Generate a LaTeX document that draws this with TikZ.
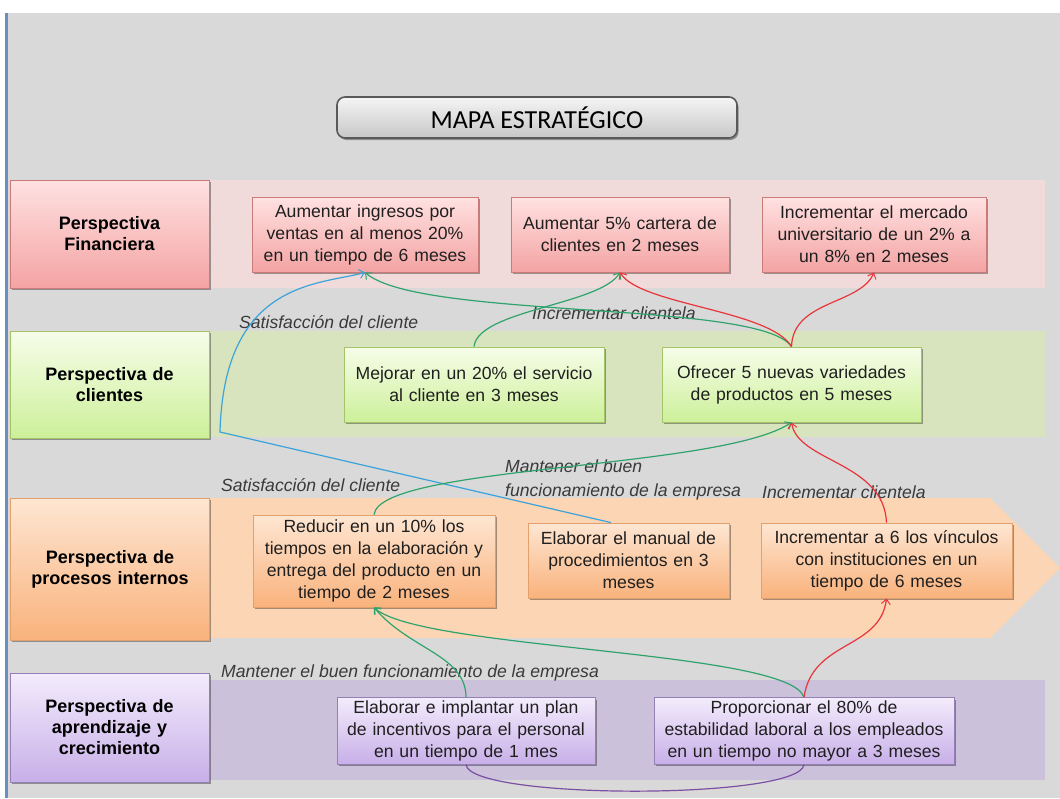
\documentclass[tikz,border=0pt]{standalone}
\usepackage{fontspec}
\setmainfont{Liberation Sans}
\newfontfamily\titlefont{Carlito}
\usetikzlibrary{arrows.meta,shadows}
\definecolor{bg}{HTML}{D9D9D9}
\definecolor{bandR}{HTML}{F0DBDA}
\definecolor{bandG}{HTML}{D8E4BE}
\definecolor{bandO}{HTML}{FCD5B5}
\definecolor{bandP}{HTML}{CCC1DA}
\definecolor{rT}{HTML}{FFE1E1}\definecolor{rB}{HTML}{F4A3A3}\definecolor{rD}{HTML}{C97B79}
\definecolor{gT}{HTML}{F6FDE9}\definecolor{gB}{HTML}{CDF09A}\definecolor{gD}{HTML}{A5C46A}
\definecolor{oT}{HTML}{FEE6D2}\definecolor{oB}{HTML}{F9B27C}\definecolor{oD}{HTML}{E2A06C}
\definecolor{pT}{HTML}{F3ECFC}\definecolor{pB}{HTML}{C8AFE8}\definecolor{pD}{HTML}{9580B5}
\definecolor{lnB}{HTML}{3BA3D9}\definecolor{lnG}{HTML}{2FA36C}\definecolor{lnR}{HTML}{E8353A}\definecolor{lnP}{HTML}{7B4FA3}
\definecolor{edgeblue}{HTML}{6C8EBF}
\definecolor{txt}{HTML}{1F1F1F}
\definecolor{itxt}{HTML}{3A3A3A}
\tikzset{
  shad/.style={drop shadow={shadow xshift=1.5pt,shadow yshift=-2pt,opacity=0.35,fill=black}},
  goalbox/.style={shad, draw, line width=0.8pt, align=center, inner sep=3pt,
    text=txt, font=\fontsize{17.6}{22}\selectfont},
  labelbox/.style={shad, draw, line width=0.8pt, align=center, inner sep=3pt,
    text=black, font=\fontsize{18}{21}\selectfont\bfseries,
    minimum width=199pt, text width=190pt},
  redgrad/.style={draw=rD, top color=rT, bottom color=rB},
  greengrad/.style={draw=gD, top color=gT, bottom color=gB},
  orangegrad/.style={draw=oD, top color=oT, bottom color=oB},
  purplegrad/.style={draw=pD, top color=pT, bottom color=pB},
  tag/.style={anchor=west, inner sep=0pt, text=itxt, align=left,
    font=\fontsize{17.6}{24}\selectfont\itshape},
  conn/.style={line width=1.2pt, -{Straight Barb[length=5pt,width=9pt,line width=1pt]}},
}
\begin{document}
\begin{tikzpicture}[x=1pt,y=-1pt]
\useasboundingbox (0,0) rectangle (1060,798);
\fill[white] (0,0) rectangle (1060,798);
\fill[bg] (8,13) rectangle (1060,798);
\draw[edgeblue, line width=2.5pt] (6.5,13) -- (6.5,798);
% bands
\fill[bandR] (200,180) rectangle (1045,288);
\fill[bandG] (200,331) rectangle (1045,437);
\fill[bandO] (200,498) -- (990,498) -- (1060,568) -- (990,638) -- (200,638) -- cycle;
\fill[bandP] (200,680) rectangle (1045,780);
% title
\node[shad, draw=black!65, line width=1.6pt, rounded corners=8pt, top color=white!96!black,
  bottom color=black!22, minimum width=400pt, minimum height=41pt,
  font=\titlefont\fontsize{26}{30}\selectfont] (title) at (537,117.5) {MAPA ESTRATÉGICO};
% perspective labels
\node[labelbox, redgrad, minimum height=108pt] (lf) at (109.5,234) {Perspectiva\\Financiera};
\node[labelbox, greengrad, minimum height=107pt] (lc) at (109.5,384.5) {Perspectiva de\\clientes};
\node[labelbox, orangegrad, minimum height=142pt] (lp) at (110,569) {Perspectiva de\\procesos internos};
\node[labelbox, purplegrad, minimum height=109pt] (la) at (109.5,727.5) {Perspectiva de\\aprendizaje y\\crecimiento};
% goals
\node[goalbox, redgrad, minimum width=226pt, text width=218pt, minimum height=75pt] (f1) at (365,234.5)
  {Aumentar ingresos por\\ventas en al menos 20\%\\en un tiempo de 6 meses};
\node[goalbox, redgrad, minimum width=218pt, text width=210pt, minimum height=75pt] (f2) at (620,234.5)
  {Aumentar 5\% cartera de\\clientes en 2 meses};
\node[goalbox, redgrad, minimum width=224pt, text width=216pt, minimum height=75pt] (f3) at (874,234.5)
  {Incrementar el mercado\\universitario de un 2\% a\\un 8\% en 2 meses};
\node[goalbox, greengrad, minimum width=260pt, text width=252pt, minimum height=75pt] (c1) at (474,384.5)
  {Mejorar en un 20\% el servicio\\al cliente en 3 meses};
\node[goalbox, greengrad, minimum width=259pt, text width=251pt, minimum height=75pt] (c2) at (791.5,384.5)
  {Ofrecer 5 nuevas variedades\\de productos en 5 meses};
\node[goalbox, orangegrad, minimum width=242pt, text width=236pt, minimum height=92pt] (p1) at (374,561)
  {Reducir en un 10\% los\\tiempos en la elaboración y\\entrega del producto en un\\tiempo de 2 meses};
\node[goalbox, orangegrad, minimum width=201pt, text width=195pt, minimum height=75pt] (p2) at (628.5,560.5)
  {Elaborar el manual de\\procedimientos en 3\\meses};
\node[goalbox, orangegrad, minimum width=249pt, text width=245pt, minimum height=75pt] (p3) at (886.5,560.5)
  {Incrementar a 6 los vínculos\\con instituciones en un\\tiempo de 6 meses};
\node[goalbox, purplegrad, minimum width=258pt, text width=252pt, minimum height=66pt] (a1) at (466,731)
  {Elaborar e implantar un plan\\de incentivos para el personal\\en un tiempo de 1 mes};
\node[goalbox, purplegrad, minimum width=300pt, text width=294pt, minimum height=66pt] (a2) at (804,731)
  {Proporcionar el 80\% de\\estabilidad laboral a los empleados\\en un tiempo no mayor a 3 meses};
% connector labels
\node[tag] (t1) at (239,322) {Satisfacción del cliente};
\node[tag] (t2) at (532,313) {Incrementar clientela};
\node[tag] (t3) at (221,485) {Satisfacción del cliente};
\node[tag] (t4) at (505,480) {Mantener el buen\\funcionamiento de la empresa};
\node[tag] (t5) at (762,492) {Incrementar clientela};
\node[tag] (t6) at (221,673) {Mantener el buen funcionamiento de la empresa};
% connectors
\coordinate (bend) at (220,432);
\draw[conn, lnB] ([xshift=-17.5pt]p2.north) -- (bend) .. controls (224,280) and (320,285) .. (f1.south);
\draw[conn, lnG] (c1.north) .. controls (478,310) and (600,305) .. (f2.south);
\draw[conn, lnG] (c2.north) .. controls (760,300) and (420,320) .. (f1.south);
\draw[conn, lnR] (c2.north) .. controls (770,310) and (640,305) .. (f2.south);
\draw[conn, lnR] (c2.north) .. controls (793,300) and (860,305) .. (f3.south);
\draw[conn, lnG] (p1.north) .. controls (380,465) and (720,470) .. (c2.south);
\draw[conn, lnR] (p3.north) .. controls (884,462) and (798,462) .. (c2.south);
\draw[conn, lnG] (a2.north) .. controls (790,650) and (420,650) .. (p1.south);
\draw[conn, lnG] (a1.north) .. controls (466,655) and (410,650) .. (p1.south);
\draw[conn, lnR] (a2.north) .. controls (812,640) and (880,650) .. (p3.south);
\draw[lnP, line width=1.2pt] (a2.south) .. controls (800,800) and (470,800) .. (a1.south);
\end{tikzpicture}
\end{document}
